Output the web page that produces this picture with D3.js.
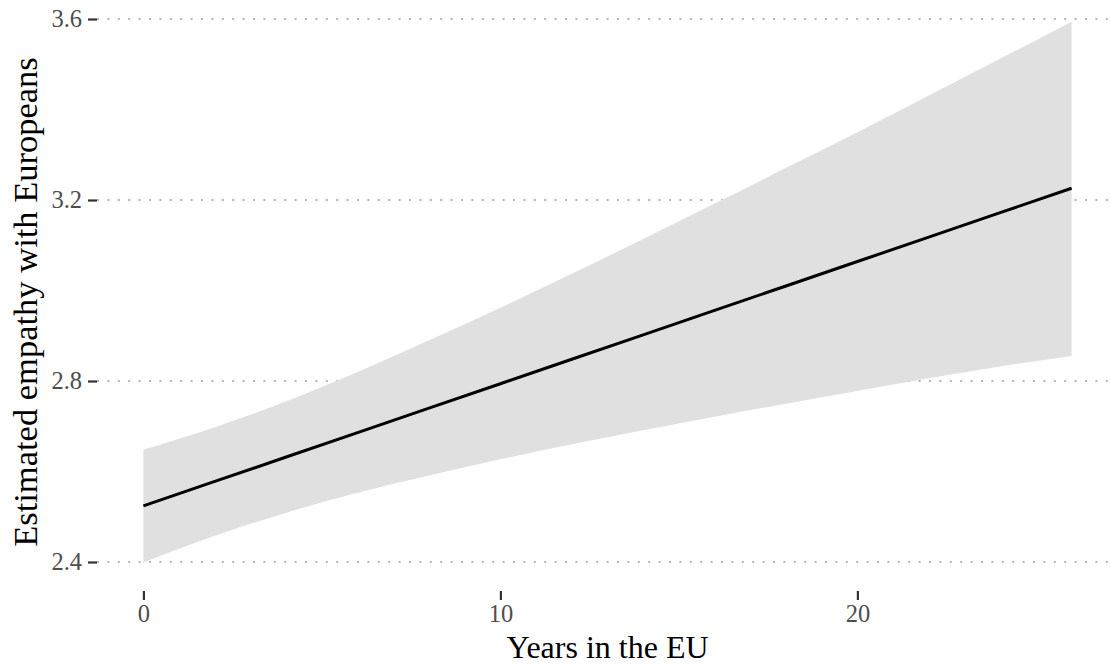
<!DOCTYPE html>
<html>
<head>
<meta charset="utf-8">
<script src="https://cdn.jsdelivr.net/npm/d3@7"></script>
<style>
  html, body { margin: 0; padding: 0; background: #fff; }
  svg { display: block; }
</style>
</head>
<body>
<svg id="chart" width="1110" height="666"></svg>
<script>
// Years in the EU at which the estimate is given
const years = [0, 2, 4, 6, 8, 10, 12, 14, 16, 18, 20, 22, 24, 26];
// Predicted empathy with Europeans
const estimate = [2.524, 2.578, 2.632, 2.686, 2.740, 2.794, 2.848, 2.902, 2.956, 3.010, 3.064, 3.118, 3.172, 3.226];
// Confidence band bounds
const upper = [2.648, 2.698, 2.755, 2.820, 2.890, 2.962, 3.037, 3.114, 3.192, 3.271, 3.350, 3.431, 3.512, 3.594];
const lower = [2.399, 2.458, 2.509, 2.553, 2.591, 2.627, 2.660, 2.691, 2.721, 2.750, 2.778, 2.806, 2.832, 2.855];
// Axis ticks
const xTicks = [0, 10, 20];
const yTicks = [2.4, 2.8, 3.2, 3.6];

const xTitle = "Years in the EU";
const yTitle = "Estimated empathy with Europeans";

const svg = d3.select("#chart");
const font = "'Liberation Serif', 'Times New Roman', serif";

const panel = { left: 97, right: 1118, top: -6, bottom: 591 };

const x = d3.scaleLinear().domain([-1.3, 27.3]).range([panel.left, panel.right]);
const y = d3.scaleLinear().domain([2.4, 3.6]).range([562, 19]);

const rows = years.map((yr, i) => ({ yr, est: estimate[i], hi: upper[i], lo: lower[i] }));

// horizontal dotted grid
svg.append("g")
  .selectAll("line")
  .data(yTicks)
  .join("line")
  .attr("x1", panel.left)
  .attr("x2", panel.right)
  .attr("y1", d => y(d))
  .attr("y2", d => y(d))
  .attr("stroke", "#b5b5b5")
  .attr("stroke-width", 2)
  .attr("stroke-dasharray", "2,8.4");

// confidence band
svg.append("path")
  .datum(rows)
  .attr("fill", "#e0e0e0")
  .attr("d", d3.area().curve(d3.curveMonotoneX)
    .x(d => x(d.yr)).y0(d => y(d.lo)).y1(d => y(d.hi)));

// estimate line
svg.append("path")
  .datum(rows)
  .attr("fill", "none")
  .attr("stroke", "#000")
  .attr("stroke-width", 3)
  .attr("d", d3.line().x(d => x(d.yr)).y(d => y(d.est)));

// y axis
const yAxis = svg.append("g")
  .attr("transform", `translate(${panel.left},0)`)
  .call(d3.axisLeft(y).tickValues(yTicks).tickFormat(d3.format(".1f")).tickSize(9).tickPadding(6));
yAxis.select(".domain").remove();
yAxis.selectAll(".tick line").attr("stroke", "#333").attr("stroke-width", 2.2);
yAxis.selectAll(".tick text")
  .attr("fill", "#4d4d4d")
  .attr("font-family", font)
  .attr("font-size", 24.5);

// x axis
const xAxis = svg.append("g")
  .attr("transform", `translate(0,${panel.bottom})`)
  .call(d3.axisBottom(x).tickValues(xTicks).tickFormat(d3.format("d")).tickSize(9).tickPadding(5));
xAxis.select(".domain").remove();
xAxis.selectAll(".tick line").attr("stroke", "#333").attr("stroke-width", 2.2);
xAxis.selectAll(".tick text")
  .attr("fill", "#4d4d4d")
  .attr("font-family", font)
  .attr("font-size", 24.5);

// axis titles
svg.append("text")
  .attr("x", (panel.left + panel.right) / 2)
  .attr("y", 658)
  .attr("text-anchor", "middle")
  .attr("font-family", font)
  .attr("font-size", 32)
  .attr("fill", "#000")
  .text(xTitle);

svg.append("text")
  .attr("transform", `translate(37,302) rotate(-90)`)
  .attr("text-anchor", "middle")
  .attr("font-family", font)
  .attr("font-size", 34.5)
  .attr("fill", "#000")
  .text(yTitle);
</script>
</body>
</html>
